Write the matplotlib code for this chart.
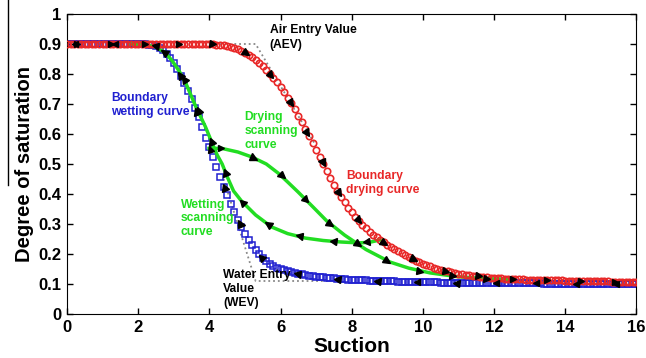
import numpy as np
import matplotlib
matplotlib.use('Agg')
import matplotlib.pyplot as plt
from matplotlib.markers import MarkerStyle
from matplotlib.transforms import Affine2D
from matplotlib.lines import Line2D

plt.rcParams['font.family'] = ['Liberation Sans', 'DejaVu Sans']
plt.rcParams['font.weight'] = 'bold'

# suction grid of the two boundary curves
suction = np.round(np.arange(0, 16.05, 0.1), 1)

# boundary drying curve (red circles)
drying_boundary = [0.9] * 40 + [
    .900, .899, .898, .897, .895, .893, .890, .886, .882, .877,
    .871, .864, .856, .847, .837, .826, .814, .801, .787, .772,
    .756, .739, .721, .702, .682, .661, .639, .617, .594, .571,
    .548, .524, .500, .477, .454, .431, .409, .390, .372, .355,
    .339, .325, .311, .298, .286, .275, .265, .256, .247, .239,
    .231, .223, .216, .209, .202, .196, .190, .184, .178, .173,
    .168, .163, .159, .155, .151, .148, .145, .142, .139, .137,
    .135, .133, .131, .129, .128, .126, .125, .124, .122, .121,
    .120,
    .119, .119, .118, .118, .117, .117, .116, .116, .115, .115,
    .114, .114, .114, .113, .113, .113, .112, .112, .112, .111,
    .111, .111, .111, .110, .110, .110, .110, .109, .109, .109,
    .109, .109, .108, .108, .108, .108, .108, .107, .107, .107]

# boundary wetting curve (blue squares)
wetting_boundary = [0.9] * 21 + [
    .900, .899, .898, .896, .893, .887, .879, .868, .853, .836,
    .815, .793, .769, .743, .715, .686, .656, .623, .588, .555,
    .522, .489, .456, .425, .396, .368, .341, .315, .291, .268,
    .247, .229, .213, .199, .187, .177, .168, .161, .155, .150,
    .146, .142, .139, .136, .134, .132, .130, .128, .126, .125,
    .123, .122, .121, .120, .119, .118, .117, .116, .115, .114,
    .113, .113, .112, .112, .111, .111, .110, .110, .110, .109,
    .109, .109, .108, .108, .108, .107, .107, .107, .107, .106,
    .106, .106, .106, .106, .105, .105, .105, .105, .105, .104,
    .104, .104, .104, .104, .104, .103, .103, .103, .103, .103,
    .103, .103, .103, .102, .102, .102, .102, .102, .102, .102,
    .102, .102, .102, .101, .101, .101, .101, .101, .101, .101,
    .101, .101, .101, .101, .101, .100, .100, .100, .100, .100,
    .100, .100, .100, .100, .100, .100, .100, .100, .100, .100]

# scanning curves, in the order they are travelled
dry_scan_x = [3.99, 4.35, 4.8, 5.18, 5.6, 5.94, 6.2, 6.49, 6.91, 7.3, 7.8,
              8.4, 9.08, 9.6, 10.2, 11.0, 11.5, 12.0, 12.5]
dry_scan_y = [0.552, 0.552, 0.54, 0.524, 0.5, 0.469, 0.44, 0.407, 0.357, 0.31,
              0.263, 0.215, 0.173, 0.153, 0.137, 0.124, 0.12, 0.117, 0.116]
wet_scan_x = [8.8, 8.5, 8.2, 7.7, 7.2, 6.7, 6.2, 5.75, 5.3, 4.9, 4.68, 4.5,
              4.36, 4.22, 4.08, 3.89, 3.62, 3.34, 3.15, 2.95, 2.75, 2.5, 2.2, 1.8]
wet_scan_y = [0.247, 0.239, 0.237, 0.24, 0.245, 0.253, 0.268, 0.29, 0.33, 0.377,
              0.41, 0.458, 0.5, 0.53, 0.569, 0.624, 0.691, 0.769, 0.81, 0.845,
              0.872, 0.89, 0.898, 0.9]

# construction lines for AEV and WEV
aev_x = [4.3, 5.3, 7.0]
aev_y = [0.9, 0.9, 0.56]
wev_x = [4.4, 5.3, 7.4]
wev_y = [0.45, 0.11, 0.11]

RED = '#e82828'
BLUE = '#2020d0'
GREEN = '#22dd22'


def add_arrows(ax, x, y, spacing, offset):
    pts = ax.transData.transform(np.column_stack([x, y]))
    seg = np.hypot(*np.diff(pts, axis=0).T)
    s = np.concatenate([[0], np.cumsum(seg)])
    inv = ax.transData.inverted()
    for d in np.arange(offset, s[-1] - 5, spacing):
        i = min(max(np.searchsorted(s, d) - 1, 0), len(seg) - 1)
        t = (d - s[i]) / seg[i] if seg[i] > 0 else 0
        p = pts[i] + t * (pts[i + 1] - pts[i])
        dx, dy = pts[i + 1] - pts[i]
        ang = np.degrees(np.arctan2(dy, dx))
        xd, yd = inv.transform(p)
        ax.plot(xd, yd, linestyle='none', color='black', ms=5, zorder=6,
                marker=MarkerStyle('>', transform=Affine2D().rotate_deg(ang)))


fig = plt.figure(figsize=(6.46, 3.58), dpi=100)
ax = fig.add_axes([0.1037, 0.1229, 0.8815, 0.838])
ax.set_xlim(0, 16)
ax.set_ylim(0, 1)

ax.plot(aev_x, aev_y, ':', color='#888888', lw=1.3, zorder=1)
ax.plot(wev_x, wev_y, ':', color='#888888', lw=1.3, zorder=1)

ax.plot(suction, wetting_boundary, linestyle='none', marker='s', ms=3.8,
        mfc='none', mec=BLUE, mew=1.1, zorder=2)
ax.plot(dry_scan_x, dry_scan_y, color=GREEN, lw=2.5, zorder=3)
ax.plot(wet_scan_x, wet_scan_y, color=GREEN, lw=2.5, zorder=3)
ax.plot(suction, drying_boundary, linestyle='none', marker='o', ms=4.6,
        mfc='none', mec=RED, mew=1.2, zorder=4)

add_arrows(ax, suction, drying_boundary, 34, 10)
add_arrows(ax, suction[::-1], wetting_boundary[::-1], 40, 20)
add_arrows(ax, dry_scan_x, dry_scan_y, 34, 12)
add_arrows(ax, wet_scan_x, wet_scan_y, 34, 14)

ax.text(5.7, 0.965, 'Air Entry Value\n(AEV)', fontsize=8.7, fontweight='bold',
        va='top', ha='left', linespacing=1.25)
ax.text(1.25, 0.74, 'Boundary\nwetting curve', color=BLUE, fontsize=8.7,
        fontweight='bold', va='top', ha='left', linespacing=1.25)
ax.text(4.98, 0.675, 'Drying\nscanning\ncurve', color=GREEN, fontsize=8.7,
        fontweight='bold', va='top', ha='left', linespacing=1.2)
ax.text(3.2, 0.385, 'Wetting\nscanning\ncurve', color=GREEN, fontsize=8.7,
        fontweight='bold', va='top', ha='left', linespacing=1.2)
ax.text(7.85, 0.48, 'Boundary\ndrying curve', color=RED, fontsize=8.7,
        fontweight='bold', va='top', ha='left', linespacing=1.25)
ax.text(4.38, 0.15, 'Water Entry\nValue\n(WEV)', fontsize=8.7,
        fontweight='bold', va='top', ha='left', linespacing=1.2)

ax.set_xticks(np.arange(0, 17, 2))
ax.set_yticks(np.round(np.arange(0, 1.01, 0.1), 1))
ax.set_yticklabels(['0', '0.1', '0.2', '0.3', '0.4', '0.5', '0.6', '0.7',
                    '0.8', '0.9', '1'])
ax.tick_params(direction='in', top=True, right=True, length=4, width=1,
               labelsize=12, pad=4)
for lab in ax.get_xticklabels() + ax.get_yticklabels():
    lab.set_fontweight('bold')
ax.set_xlabel('Suction', fontsize=15, fontweight='bold', labelpad=2)
ax.set_ylabel('Degree of saturation', fontsize=14.5, fontweight='bold',
              labelpad=3)

fig.add_artist(Line2D([8 / 646, 8 / 646], [1, 1 - 185 / 358], color='black',
                      lw=1))

fig.savefig('out.png', dpi=100)
